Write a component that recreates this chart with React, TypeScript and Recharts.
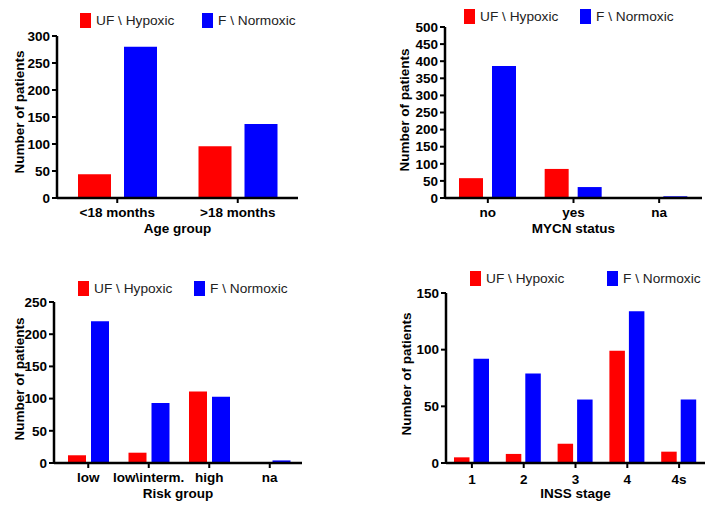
import React from 'react';
import { BarChart, Bar, XAxis, YAxis, Legend, Label } from 'recharts';

const FONT = '"Liberation Sans", Arial, Helvetica, sans-serif';
const RED = '#ff0000';
const BLUE = '#0000ff';
const SERIES_NAMES = ['UF \\ Hypoxic', 'F \\ Normoxic'];

// Panel A: age group
const ageCategories = ['<18 months', '>18 months'];
const ageHypoxic = [44, 96];
const ageNormoxic = [280, 137];
const ageTicks = [0, 50, 100, 150, 200, 250, 300];

// Panel B: MYCN status
const mycnCategories = ['no', 'yes', 'na'];
const mycnHypoxic = [58, 85, 0];
const mycnNormoxic = [386, 32, 5];
const mycnTicks = [0, 50, 100, 150, 200, 250, 300, 350, 400, 450, 500];

// Panel C: risk group
const riskCategories = ['low', 'low\\interm.', 'high', 'na'];
const riskHypoxic = [12, 16, 111, 0];
const riskNormoxic = [220, 93, 103, 4];
const riskTicks = [0, 50, 100, 150, 200, 250];

// Panel D: INSS stage
const inssCategories = ['1', '2', '3', '4', '4s'];
const inssHypoxic = [5, 8, 17, 99, 10];
const inssNormoxic = [92, 79, 56, 134, 56];
const inssTicks = [0, 50, 100, 150];

type Cfg = {
  left: number; top: number; width: number; height: number;
  plotLeft: number; plotRight: number; plotTop: number; plotBottom: number;
  categories: string[]; hyp: number[]; norm: number[]; ticks: number[];
  barSize: number; barGap: number; xPad: { left: number; right: number };
  tickMargin: number; xTitle: string; yTitleX: number; yTitleY: number;
  legendTop: number; legendRed: number; legendBlue: number;
};

const panels: Cfg[] = [
  {
    left: 0, top: 0, width: 360, height: 250,
    plotLeft: 57, plotRight: 298, plotTop: 36, plotBottom: 198,
    categories: ageCategories, hyp: ageHypoxic, norm: ageNormoxic, ticks: ageTicks,
    barSize: 33, barGap: 13, xPad: { left: 0, right: 0 }, tickMargin: 4,
    xTitle: 'Age group', yTitleX: 19, yTitleY: 112,
    legendTop: 13, legendRed: 80, legendBlue: 202,
  },
  {
    left: 360, top: 0, width: 357, height: 250,
    plotLeft: 85, plotRight: 342, plotTop: 27, plotBottom: 198,
    categories: mycnCategories, hyp: mycnHypoxic, norm: mycnNormoxic, ticks: mycnTicks,
    barSize: 24, barGap: 9, xPad: { left: 0, right: 0 }, tickMargin: 4,
    xTitle: 'MYCN status', yTitleX: 44, yTitleY: 110,
    legendTop: 9, legendRed: 104, legendBlue: 220,
  },
  {
    left: 0, top: 250, width: 360, height: 260,
    plotLeft: 54, plotRight: 302, plotTop: 52, plotBottom: 213,
    categories: riskCategories, hyp: riskHypoxic, norm: riskNormoxic, ticks: riskTicks,
    barSize: 18, barGap: 5, xPad: { left: 4, right: 2 }, tickMargin: 4,
    xTitle: 'Risk group', yTitleX: 19, yTitleY: 129,
    legendTop: 31, legendRed: 78, legendBlue: 194,
  },
  {
    left: 360, top: 250, width: 357, height: 260,
    plotLeft: 86, plotRight: 345, plotTop: 43, plotBottom: 213,
    categories: inssCategories, hyp: inssHypoxic, norm: inssNormoxic, ticks: inssTicks,
    barSize: 15.5, barGap: 4, xPad: { left: 0, right: 0 }, tickMargin: 6,
    xTitle: 'INSS stage', yTitleX: 46, yTitleY: 124,
    legendTop: 21, legendRed: 110, legendBlue: 247,
  },
];

const boldText = { fill: '#000', fontSize: 13.5, fontWeight: 700, fontFamily: FONT };

function LegendBox({ cfg }: { cfg: Cfg }) {
  const items = [
    { x: cfg.legendRed, color: RED, label: SERIES_NAMES[0] },
    { x: cfg.legendBlue, color: BLUE, label: SERIES_NAMES[1] },
  ];
  return (
    <div style={{ position: 'relative', width: cfg.width, height: 20 }}>
      {items.map((it) => (
        <div
          key={it.label}
          style={{
            position: 'absolute', left: it.x, top: 0, height: 15,
            display: 'flex', alignItems: 'center', whiteSpace: 'nowrap',
          }}
        >
          <span style={{ display: 'inline-block', width: 11, height: 15, background: it.color }} />
          <span style={{ marginLeft: 5, fontFamily: FONT, fontSize: 13.7, color: '#222', lineHeight: '15px' }}>
            {it.label}
          </span>
        </div>
      ))}
    </div>
  );
}

function Panel({ cfg }: { cfg: Cfg }) {
  const data = cfg.categories.map((c, i) => ({ name: c, hyp: cfg.hyp[i], norm: cfg.norm[i] }));
  const yMax = cfg.ticks[cfg.ticks.length - 1];
  return (
    <div style={{ position: 'absolute', left: cfg.left, top: cfg.top, width: cfg.width, height: cfg.height }}>
      <BarChart
        width={cfg.width}
        height={cfg.height}
        data={data}
        margin={{ top: cfg.plotTop, right: cfg.width - cfg.plotRight, bottom: 0, left: 0 }}
        barSize={cfg.barSize}
        barGap={cfg.barGap}
      >
        <XAxis
          dataKey="name"
          height={cfg.height - cfg.plotBottom}
          interval={0}
          padding={cfg.xPad}
          axisLine={{ stroke: '#000', strokeWidth: 2.5 }}
          tickLine={{ stroke: '#000', strokeWidth: 2 }}
          tickSize={5}
          tickMargin={cfg.tickMargin}
          tick={boldText}
        >
          <Label
            content={(props: any) => {
              const vb = props.viewBox || {};
              return (
                <text
                  x={vb.x + vb.width / 2}
                  y={vb.y + 35}
                  textAnchor="middle"
                  style={boldText}
                  fill="#000"
                >
                  {cfg.xTitle}
                </text>
              );
            }}
          />
        </XAxis>
        <YAxis
          width={cfg.plotLeft}
          domain={[0, yMax]}
          ticks={cfg.ticks}
          interval={0}
          allowDataOverflow
          axisLine={{ stroke: '#000', strokeWidth: 2.5 }}
          tickLine={{ stroke: '#000', strokeWidth: 2 }}
          tickSize={5}
          tickMargin={2}
          tick={boldText}
        >
          <Label
            content={() => (
              <text
                transform={`translate(${cfg.yTitleX},${cfg.yTitleY}) rotate(-90)`}
                textAnchor="middle"
                dy="0.36em"
                style={boldText}
                fill="#000"
              >
                Number of patients
              </text>
            )}
          />
        </YAxis>
        <Legend
          layout="vertical"
          align="center"
          verticalAlign="middle"
          wrapperStyle={{ left: 0, top: cfg.legendTop, width: cfg.width, height: 20 }}
          content={() => <LegendBox cfg={cfg} />}
        />
        <Bar dataKey="hyp" name={SERIES_NAMES[0]} fill={RED} isAnimationActive={false} />
        <Bar dataKey="norm" name={SERIES_NAMES[1]} fill={BLUE} isAnimationActive={false} />
      </BarChart>
    </div>
  );
}

export default function App() {
  return (
    <div style={{ position: 'absolute', left: 0, top: 0, width: 717, height: 510, background: '#fff', overflow: 'hidden' }}>
      {panels.map((p, i) => (
        <Panel key={i} cfg={p} />
      ))}
    </div>
  );
}
